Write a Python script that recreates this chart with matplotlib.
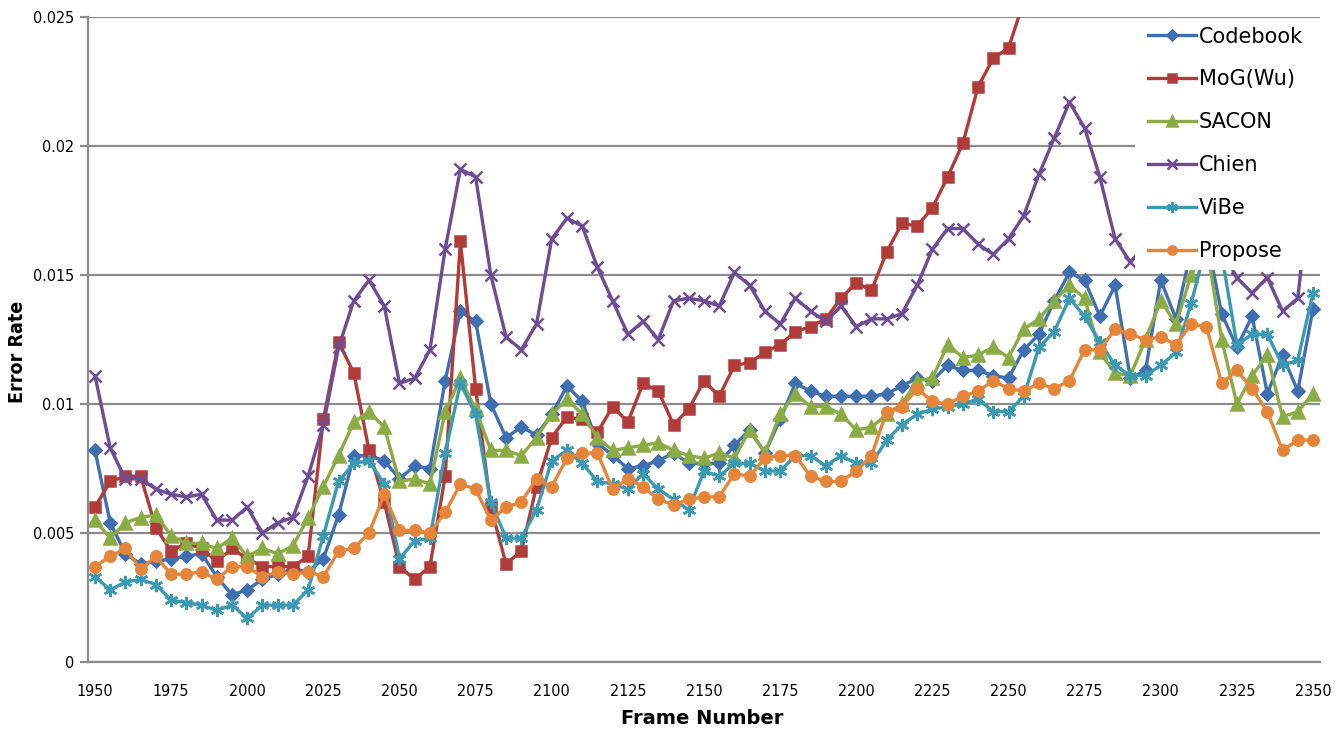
import matplotlib.pyplot as plt
import numpy as np
from matplotlib.patches import Rectangle

frames = np.arange(1950, 2351, 5)

codebook = [0.0082, 0.0054, 0.0042, 0.0038, 0.0039, 0.0040, 0.0041, 0.0042, 0.0033, 0.0026,
            0.0028, 0.0032, 0.0034, 0.0036, 0.0035, 0.0040, 0.0057, 0.0080, 0.0080, 0.0078,
            0.0071, 0.0076, 0.0075, 0.0109, 0.0136, 0.0132, 0.0100, 0.0087, 0.0091, 0.0088,
            0.0096, 0.0107, 0.0101, 0.0085, 0.0080, 0.0075, 0.0076, 0.0078, 0.0081, 0.0077,
            0.0077, 0.0077, 0.0084, 0.0090, 0.0081, 0.0094, 0.0108, 0.0105, 0.0103, 0.0103,
            0.0103, 0.0103, 0.0104, 0.0107, 0.0110, 0.0109, 0.0115, 0.0113, 0.0113, 0.0111,
            0.0110, 0.0121, 0.0127, 0.0140, 0.0151, 0.0148, 0.0134, 0.0146, 0.0110, 0.0113,
            0.0148, 0.0133, 0.0160, 0.0165, 0.0135, 0.0122, 0.0134, 0.0104, 0.0119, 0.0105,
            0.0137]
mog = [0.0060, 0.0070, 0.0072, 0.0072, 0.0052, 0.0043, 0.0046, 0.0044, 0.0039, 0.0044,
       0.0040, 0.0037, 0.0037, 0.0037, 0.0041, 0.0094, 0.0124, 0.0112, 0.0082, 0.0062,
       0.0037, 0.0032, 0.0037, 0.0072, 0.0163, 0.0106, 0.0060, 0.0038, 0.0043, 0.0068,
       0.0087, 0.0095, 0.0094, 0.0089, 0.0099, 0.0093, 0.0108, 0.0105, 0.0092, 0.0098,
       0.0109, 0.0103, 0.0115, 0.0116, 0.0120, 0.0123, 0.0128, 0.0130, 0.0133, 0.0141,
       0.0147, 0.0144, 0.0159, 0.0170, 0.0169, 0.0176, 0.0188, 0.0201, 0.0223, 0.0234,
       0.0238, 0.0256, 0.0268, 0.0279, 0.0288, 0.0295, 0.0300, 0.0305, 0.0310, 0.0312,
       0.0315, 0.0318, 0.0320, 0.0322, 0.0325, 0.0327, 0.0330, 0.0332, 0.0334, 0.0336,
       0.0338]
sacon = [0.0055, 0.0048, 0.0054, 0.0056, 0.0057, 0.0049, 0.0046, 0.0046, 0.0044, 0.0048,
         0.0041, 0.0044, 0.0042, 0.0045, 0.0056, 0.0068, 0.0080, 0.0093, 0.0097, 0.0091,
         0.0070, 0.0071, 0.0069, 0.0097, 0.0110, 0.0098, 0.0082, 0.0082, 0.0080, 0.0087,
         0.0096, 0.0102, 0.0096, 0.0087, 0.0082, 0.0083, 0.0084, 0.0085, 0.0082, 0.0080,
         0.0079, 0.0081, 0.0079, 0.0090, 0.0081, 0.0096, 0.0104, 0.0099, 0.0099, 0.0096,
         0.0090, 0.0091, 0.0096, 0.0100, 0.0109, 0.0110, 0.0123, 0.0118, 0.0119, 0.0122,
         0.0118, 0.0129, 0.0133, 0.0140, 0.0146, 0.0141, 0.0120, 0.0112, 0.0111, 0.0125,
         0.0140, 0.0131, 0.0150, 0.0162, 0.0125, 0.0100, 0.0111, 0.0119, 0.0095, 0.0097,
         0.0104]
chien = [0.0111, 0.0083, 0.0071, 0.0071, 0.0067, 0.0065, 0.0064, 0.0065, 0.0055, 0.0055,
         0.0060, 0.0050, 0.0054, 0.0056, 0.0072, 0.0092, 0.0122, 0.0140, 0.0148, 0.0138,
         0.0108, 0.0110, 0.0121, 0.0160, 0.0191, 0.0188, 0.0150, 0.0126, 0.0121, 0.0131,
         0.0164, 0.0172, 0.0169, 0.0153, 0.0140, 0.0127, 0.0132, 0.0125, 0.0140, 0.0141,
         0.0140, 0.0138, 0.0151, 0.0146, 0.0136, 0.0131, 0.0141, 0.0136, 0.0132, 0.0138,
         0.0130, 0.0133, 0.0133, 0.0135, 0.0146, 0.0160, 0.0168, 0.0168, 0.0162, 0.0158,
         0.0164, 0.0173, 0.0189, 0.0203, 0.0217, 0.0207, 0.0188, 0.0164, 0.0155, 0.0162,
         0.0168, 0.0165, 0.0170, 0.0168, 0.0160, 0.0149, 0.0143, 0.0149, 0.0136, 0.0141,
         0.0195]
vibe = [0.0033, 0.0028, 0.0031, 0.0032, 0.0030, 0.0024, 0.0023, 0.0022, 0.0020, 0.0022,
        0.0017, 0.0022, 0.0022, 0.0022, 0.0028, 0.0049, 0.0070, 0.0077, 0.0078, 0.0069,
        0.0040, 0.0047, 0.0048, 0.0081, 0.0108, 0.0096, 0.0062, 0.0048, 0.0048, 0.0059,
        0.0078, 0.0082, 0.0077, 0.0070, 0.0069, 0.0067, 0.0073, 0.0067, 0.0063, 0.0059,
        0.0074, 0.0072, 0.0077, 0.0077, 0.0074, 0.0074, 0.0080, 0.0080, 0.0076, 0.0080,
        0.0077, 0.0077, 0.0086, 0.0092, 0.0096, 0.0098, 0.0099, 0.0100, 0.0102, 0.0097,
        0.0097, 0.0103, 0.0122, 0.0128, 0.0141, 0.0134, 0.0124, 0.0115, 0.0111, 0.0111,
        0.0115, 0.0120, 0.0139, 0.0162, 0.0158, 0.0123, 0.0127, 0.0127, 0.0115, 0.0117,
        0.0143]
propose = [0.0037, 0.0041, 0.0044, 0.0036, 0.0041, 0.0034, 0.0034, 0.0035, 0.0032, 0.0037,
           0.0037, 0.0033, 0.0035, 0.0034, 0.0035, 0.0033, 0.0043, 0.0044, 0.0050, 0.0065,
           0.0051, 0.0051, 0.0050, 0.0058, 0.0069, 0.0067, 0.0055, 0.0060, 0.0062, 0.0071,
           0.0068, 0.0079, 0.0081, 0.0081, 0.0067, 0.0071, 0.0068, 0.0063, 0.0061, 0.0063,
           0.0064, 0.0064, 0.0073, 0.0072, 0.0079, 0.0080, 0.0080, 0.0072, 0.0070, 0.0070,
           0.0074, 0.0080, 0.0097, 0.0099, 0.0106, 0.0101, 0.0100, 0.0103, 0.0105, 0.0109,
           0.0106, 0.0105, 0.0108, 0.0106, 0.0109, 0.0121, 0.0121, 0.0129, 0.0127, 0.0125,
           0.0126, 0.0123, 0.0131, 0.0130, 0.0108, 0.0113, 0.0106, 0.0097, 0.0082, 0.0086,
           0.0086]

series = [
    ('Codebook', codebook, '#3f6fb0', 'D', 6.5),
    ('MoG(Wu)', mog, '#b03b39', 's', 7.5),
    ('SACON', sacon, '#8bab44', '^', 8.5),
    ('Chien', chien, '#6e4c94', 'x', 8.5),
    ('ViBe', vibe, '#3b9ab3', (6, 2, 0), 9.5),
    ('Propose', propose, '#e5853a', 'o', 7.5),
]

narrow = ['DejaVu Sans', 'Liberation Sans Narrow']

fig = plt.figure(figsize=(13.37, 7.31), dpi=100)
ax = fig.add_axes([0.0658, 0.0944, 0.9215, 0.8823])

for name, ys, color, marker, ms in series:
    ax.plot(frames, ys, color=color, lw=2.4, marker=marker, ms=ms,
            mec=color, mfc=color, mew=1.8, label=name, zorder=3)

ax.set_xlim(1947.7, 2352.3)
ax.set_ylim(0, 0.025)
ax.set_xticks(np.arange(1950, 2351, 25))
ax.set_yticks([0, 0.005, 0.01, 0.015, 0.02, 0.025])
ax.set_yticklabels(['0', '0.005', '0.01', '0.015', '0.02', '0.025'])
ax.grid(axis='y', color='#8c8c8c', lw=1.6, zorder=1)
ax.set_axisbelow(True)

for side in ['top', 'right']:
    ax.spines[side].set_visible(False)
for side in ['left', 'bottom']:
    ax.spines[side].set_color('#8c8c8c')
    ax.spines[side].set_linewidth(1.6)

ax.tick_params(axis='x', length=0, pad=16)
ax.tick_params(axis='y', length=6, width=1.6, color='#8c8c8c', pad=4)
for lbl in ax.get_xticklabels() + ax.get_yticklabels():
    lbl.set_family(narrow)
    lbl.set_fontstretch('condensed')
    lbl.set_fontsize(11.5)

fig.text(702 / 1337, 1 - 719 / 731, 'Frame Number', ha='center', va='center',
         fontsize=14, fontweight='bold')
fig.text(18 / 1337, 1 - 352 / 731, 'Error Rate', ha='center', va='center',
         rotation=90, fontsize=14, fontweight='bold', fontstretch='condensed')

# legend box sits over the plot and hides the lines behind it
ax.add_patch(Rectangle((0.8498, 0.6078), 0.16, 0.389, transform=ax.transAxes,
                       facecolor='white', edgecolor='none', zorder=4, clip_on=False))
leg = ax.legend(loc='upper left', bbox_to_anchor=(1133 / 1337, 1 - 12 / 731),
                bbox_transform=fig.transFigure, frameon=False, fontsize=15,
                handlelength=2.3, handletextpad=0.15, labelspacing=1.1,
                borderpad=0.2, markerscale=0.8)
leg.set_zorder(5)

fig.savefig('out.png', dpi=100)
